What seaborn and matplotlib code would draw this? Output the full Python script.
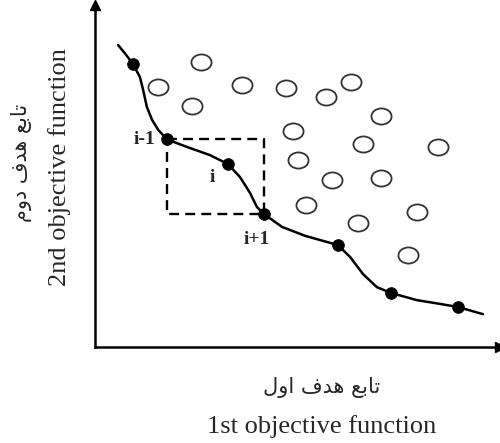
import numpy as np
import pandas as pd
import seaborn as sns
import matplotlib.pyplot as plt
from matplotlib.path import Path

# ==========================
# DATA (arbitrary 0-10 units)
# ==========================
# smooth pareto front, traced point by point
front_x = [0.57, 0.77, 0.94, 1.11, 1.19, 1.28, 1.41, 1.56, 1.78, 2.27, 2.84, 3.28, 3.58,
           3.83, 4.00, 4.17, 4.62, 5.19, 6.00, 6.30, 6.62, 6.96, 7.31, 7.95, 8.52, 8.96, 9.58]
front_y = [8.83, 8.54, 8.27, 7.89, 7.51, 7.02, 6.64, 6.35, 6.07, 5.85, 5.61, 5.35, 4.97,
           4.50, 4.09, 3.89, 3.51, 3.25, 2.98, 2.63, 2.13, 1.75, 1.58, 1.37, 1.26, 1.17, 0.96]

# non-dominated solutions (filled dots)
pareto_x = [0.94, 1.78, 3.28, 4.17, 6.00, 7.31, 8.96]
pareto_y = [8.27, 6.07, 5.35, 3.89, 2.98, 1.58, 1.17]

# dominated solutions (open circles)
dom_x = [2.62, 1.56, 3.63, 4.72, 5.70, 6.32, 2.40, 4.89, 7.06, 5.01, 6.62, 8.47,
         5.85, 7.06, 5.21, 7.95, 6.49, 7.73]
dom_y = [8.33, 7.60, 7.66, 7.57, 7.31, 7.75, 7.05, 6.32, 6.75, 5.47, 5.94, 5.85,
         4.88, 4.94, 4.15, 3.95, 3.63, 2.69]

# crowding box spans the neighbours of point i
box_left, box_right = 1, 3   # indices into pareto lists
point_labels = ["i-1", "i", "i+1"]

# Persian labels, pre-shaped (presentation forms, visual order)
fa_y = "\uFEE1\uFEED\uFEA9 \uFED1\uFEAA\uFEEB \uFECA\uFE91\uFE8E\uFE97"   # تابع هدف دوم
fa_x = "\uFEDD\uFEED\uFE8D \uFED1\uFEAA\uFEEB \uFECA\uFE91\uFE8E\uFE97"   # تابع هدف اول
en_y = "2nd objective function"
en_x = "1st objective function"

# ==========================
# PLOT
# ==========================
sns.set_style("white")
plt.rcParams['font.family'] = ['Liberation Serif', 'DejaVu Sans']

fig = plt.figure(figsize=(5, 4.43), dpi=100)
ax = fig.add_axes([0.19, 0.2167, 0.81, 0.772])

df_front = pd.DataFrame({"x": front_x, "y": front_y})
sns.lineplot(data=df_front, x="x", y="y", sort=False, estimator=None,
             color="black", linewidth=1.8, ax=ax)

# dashed box
bx = [pareto_x[box_left], pareto_x[box_right], pareto_x[box_right], pareto_x[box_left], pareto_x[box_left]]
by = [pareto_y[box_left], pareto_y[box_left], pareto_y[box_right], pareto_y[box_right], pareto_y[box_left]]
ax.plot(bx, by, color="black", linewidth=1.7, linestyle=(0, (4.2, 2.6)))

# open ellipses
circ = Path.unit_circle()
ellipse = Path(circ.vertices * np.array([1.0, 0.8]), circ.codes)
sns.scatterplot(x=dom_x, y=dom_y, marker=ellipse, s=210, facecolor="white",
                edgecolor="#333333", linewidth=1.3, ax=ax, zorder=3)

sns.scatterplot(x=pareto_x, y=pareto_y, s=70, color="black", edgecolor="black",
                ax=ax, zorder=4)

# point labels
ax.text(pareto_x[1] - 0.3, pareto_y[1], point_labels[0], ha="right", va="center",
        fontsize=14, fontweight="bold")
ax.text(2.9, 4.96, point_labels[1], ha="center", va="center", fontsize=14, fontweight="bold")
ax.text(pareto_x[3] - 0.17, pareto_y[3] - 0.75, point_labels[2], ha="center", va="center",
        fontsize=14, fontweight="bold")

ax.set_xlim(0, 10)
ax.set_ylim(0, 10)
ax.set_xticks([])
ax.set_yticks([])
ax.set_xlabel("")
ax.set_ylabel("")
sns.despine(ax=ax)
for side in ["left", "bottom"]:
    ax.spines[side].set_linewidth(1.8)
    ax.spines[side].set_color("black")

# arrow heads
ax.plot([0], [1], marker="^", markersize=7, color="black", transform=ax.transAxes, clip_on=False)
ax.plot([1], [0], marker=">", markersize=7, color="black", transform=ax.transAxes, clip_on=False)

# axis titles (two lines each)
fig.text(322 / 500, 1 - 388 / 443, fa_x, ha="center", va="center", fontsize=15,
         family=['DejaVu Sans'])
fig.text(322 / 500, 1 - 427 / 443, en_x, ha="center", va="center", fontsize=19)
fig.text(22 / 500, 1 - 163 / 443, fa_y, ha="center", va="center", fontsize=15,
         rotation=90, family=['DejaVu Sans'])
fig.text(60 / 500, 1 - 167 / 443, en_y, ha="center", va="center", fontsize=19, rotation=90)

fig.savefig("out.png", dpi=100)
